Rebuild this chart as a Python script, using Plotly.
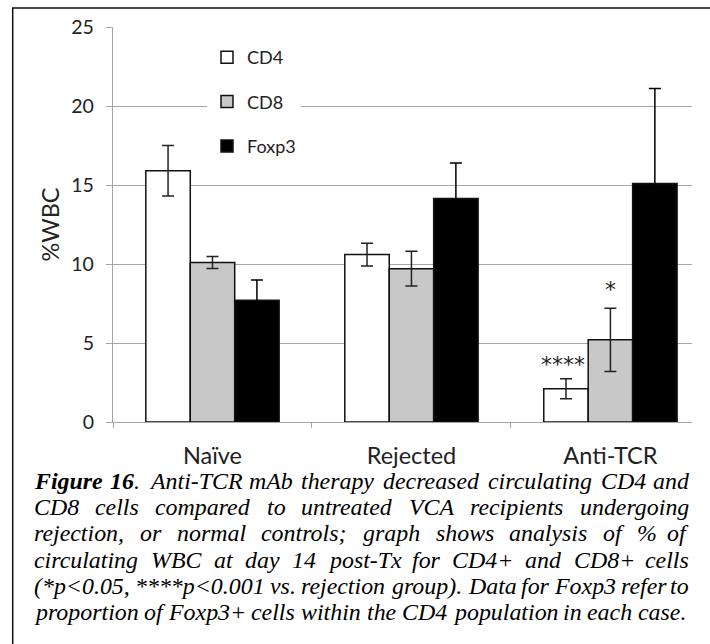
import plotly.graph_objects as go

# ---------------- data ----------------
groups = ["Naïve", "Rejected", "Anti-TCR"]
cd4 = [15.9, 10.6, 2.1]
cd4_err = [1.6, 0.72, 0.63]
cd8 = [10.1, 9.7, 5.2]
cd8_err = [0.38, 1.1, 2.0]
foxp3 = [7.7, 14.15, 15.1]
foxp3_err = [1.28, 2.25, 6.0]
sig_cd4 = ["", "", "****"]
sig_cd8 = ["", "", "*"]
y_ticks = [0, 5, 10, 15, 20, 25]

caption_lines = [
    "Figure 16. Anti-TCR mAb therapy decreased circulating CD4 and",
    "CD8 cells compared to untreated VCA recipients undergoing",
    "rejection, or normal controls; graph shows analysis of % of",
    "circulating WBC at day 14 post-Tx for CD4+ and CD8+ cells",
    "(*p<0.05, ****p<0.001 vs. rejection group). Data for Foxp3 refer to",
    "proportion of Foxp3+ cells within the CD4 population in each case.",
]

# ---------------- layout constants ----------------
W, H = 710, 644
L, R, T, B = 113, 18, 27, 222
PW = W - L - R
PH = H - T - B

def px_x(p):
    return (p - L) / PW

def px_y(p):
    return (H - B - p) / PH

GRID = "#a6a6a6"
TICKFONT = "Lato"

fig = go.Figure()
series = [
    ("CD4", cd4, cd4_err, "#ffffff", "#222222"),
    ("CD8", cd8, cd8_err, "#c8c8c8", "#222222"),
    ("Foxp3", foxp3, foxp3_err, "#000000", "#000000"),
]
for name, vals, errs, col, ecol in series:
    fig.add_trace(go.Bar(
        name=name, x=groups, y=vals, legendgroup=name,
        marker=dict(color=col, line=dict(color="#111111", width=1.5)),
        error_y=dict(type="data", array=errs, visible=True,
                     color=ecol, thickness=1.5, width=6),
    ))

bw = 0.67 / 3
SIGFONT = dict(family="DejaVu Sans", size=22, color="#222")
for i, g in enumerate(groups):
    if sig_cd4[i]:
        fig.add_annotation(x=i - bw, y=cd4[i] + cd4_err[i], xref="x", yref="y",
                           text=sig_cd4[i], showarrow=False, yanchor="bottom",
                           xshift=-3, yshift=0, font=SIGFONT)
    if sig_cd8[i]:
        fig.add_annotation(x=i, y=cd8[i] + cd8_err[i], xref="x", yref="y",
                           text=sig_cd8[i], showarrow=False, yanchor="bottom",
                           yshift=4, font=SIGFONT)

# ---------------- caption (justified, word by word) ----------------
TI = {
    'a': .5, 'b': .5, 'c': .444, 'd': .5, 'e': .444, 'f': .278, 'g': .5, 'h': .5,
    'i': .278, 'j': .278, 'k': .444, 'l': .278, 'm': .722, 'n': .5, 'o': .5, 'p': .5,
    'q': .5, 'r': .389, 's': .389, 't': .278, 'u': .5, 'v': .444, 'w': .667, 'x': .444,
    'y': .444, 'z': .389,
    'A': .611, 'B': .611, 'C': .667, 'D': .722, 'E': .611, 'F': .611, 'G': .722,
    'H': .722, 'I': .333, 'J': .444, 'K': .667, 'L': .556, 'M': .833, 'N': .667,
    'O': .722, 'P': .611, 'Q': .722, 'R': .611, 'S': .5, 'T': .556, 'U': .722,
    'V': .611, 'W': .833, 'X': .611, 'Y': .556, 'Z': .556,
    '.': .25, ',': .25, '-': .333, '+': .675, '<': .675, '(': .333, ')': .333,
    '*': .5, ';': .333, '%': .833, ' ': .25,
}
for d in "0123456789":
    TI[d] = .5
TBI = {'F': .667, 'i': .278, 'g': .5, 'u': .556, 'r': .389, 'e': .444, '1': .5, '6': .5}

CAP_SIZE = 23.9
CAP_LEFT, CAP_RIGHT = 33, 690
baselines = [489, 515.2, 541.4, 567.6, 593.8, 620]
CAPFONT = dict(family="Liberation Serif, Times New Roman, serif", size=CAP_SIZE,
               style="italic", color="#000")

def word_width(w, bold_chars=0):
    tot = 0
    for k, ch in enumerate(w):
        if k < bold_chars:
            tot += TBI.get(ch, TI.get(ch, .5))
        else:
            tot += TI.get(ch, .5)
    return tot * CAP_SIZE

def esc(s):
    return s.replace("&", "&amp;").replace("<", "&lt;").replace(">", "&gt;")

for li, line in enumerate(caption_lines):
    words = line.split(" ")
    infos = []
    for wi, w in enumerate(words):
        if li == 0 and wi == 0:
            infos.append(("<b>" + w + "</b>", word_width(w, len(w))))
        elif li == 0 and wi == 1:
            infos.append(("<b>16</b>.", word_width(w, 2)))
        else:
            infos.append((esc(w), word_width(w)))
    total = sum(wd for _, wd in infos)
    last = li == len(caption_lines) - 1
    if last:
        gap = TI[' '] * CAP_SIZE
    else:
        gap = (CAP_RIGHT - CAP_LEFT - total) / (len(words) - 1)
    x = CAP_LEFT
    ymid = baselines[li] - 0.3375 * CAP_SIZE
    for wi, (txt, wd) in enumerate(infos):
        right = (not last) and wi == len(infos) - 1
        fig.add_annotation(x=px_x(CAP_RIGHT if right else x), y=px_y(ymid),
                           xref="paper", yref="paper", text=txt, showarrow=False,
                           xanchor="right" if right else "left", yanchor="middle",
                           borderpad=0, font=CAPFONT)
        x += wd + gap

# outer border
fig.add_shape(type="rect", xref="paper", yref="paper",
              x0=px_x(12.7), x1=px_x(730), y0=px_y(8), y1=px_y(670),
              line=dict(color="#111", width=1.5), fillcolor="rgba(0,0,0,0)", layer="above")

fig.update_layout(
    width=W, height=H,
    margin=dict(l=L, r=R, t=T, b=B, pad=0),
    paper_bgcolor="white", plot_bgcolor="white",
    barmode="group", bargap=0.33, bargroupgap=0,
    showlegend=True,
    legend=dict(x=px_x(207), y=px_y(39), xanchor="left", yanchor="top",
                bgcolor="white", borderwidth=0, traceorder="grouped",
                tracegroupgap=18, font=dict(family=TICKFONT, size=18, color="#222")),
    xaxis=dict(type="category", range=[-0.5, 2.41], tickson="boundaries",
               ticks="outside", ticklen=5, tickcolor=GRID, tickwidth=1.3,
               showline=True, linecolor=GRID, linewidth=1.3, showgrid=False,
               tickfont=dict(family=TICKFONT, size=23.5, color="#222"),
               ticklabelstandoff=13),
    yaxis=dict(range=[0, 25], tickvals=y_ticks, ticks="outside", ticklen=6,
               tickcolor=GRID, tickwidth=1.3, showline=True, linecolor=GRID,
               linewidth=1.3, showgrid=True, gridcolor=GRID, gridwidth=1.3,
               zeroline=False, tickfont=dict(family=TICKFONT, size=19.5, color="#222"),
               ticklabelstandoff=8,
               title=dict(text="%WBC", font=dict(family=TICKFONT, size=23.5, color="#222"),
                          standoff=5)),
)

fig.write_html("out.html", config={"displayModeBar": False},
               post_script="document.body.style.margin='0px';")
